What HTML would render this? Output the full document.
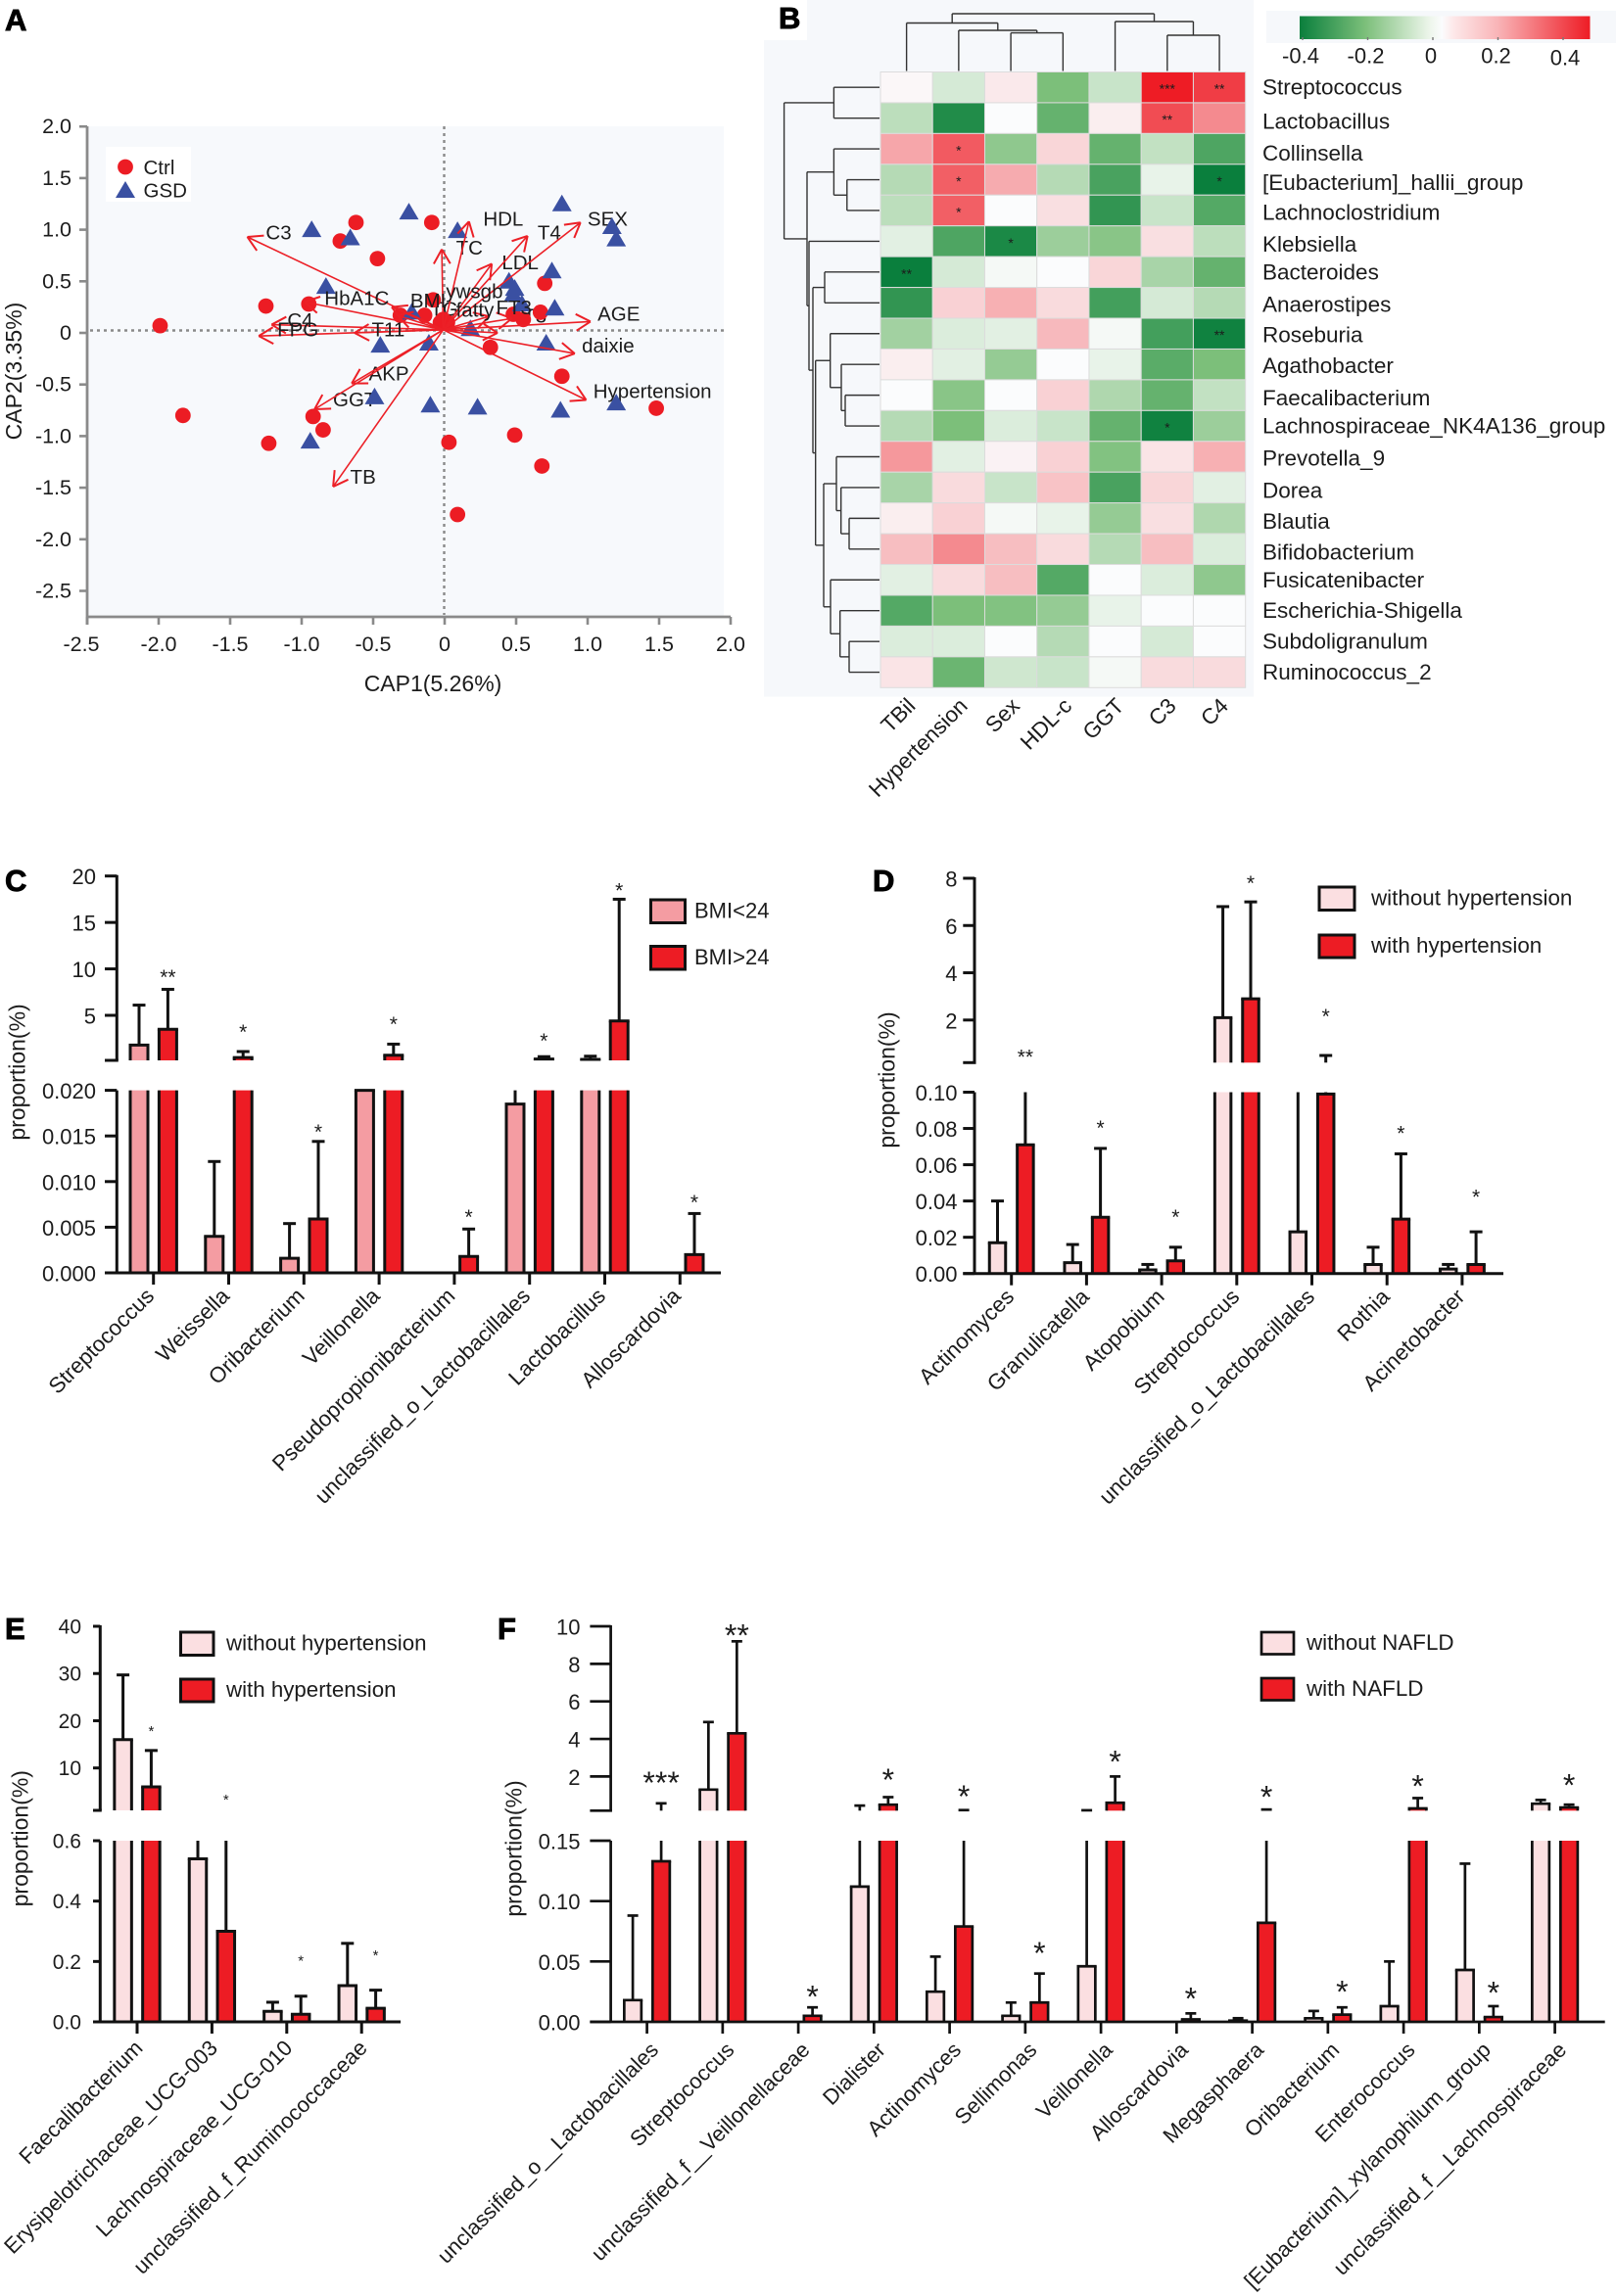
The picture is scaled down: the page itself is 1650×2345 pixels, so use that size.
<!DOCTYPE html>
<html lang="en">
<head>
<meta charset="utf-8">
<title>Gut microbiota figure panels A-F</title>
<style>
html,body{margin:0;padding:0;background:#fff}
#figure{display:block;width:1650px;height:2345px}
text{font-family:"Liberation Sans",Arial,sans-serif;fill:#1c1c1c}
</style>
</head>
<body>
<svg id="figure" xmlns="http://www.w3.org/2000/svg" width="1650" height="2345" viewBox="0 0 1650 2345"></svg>
<script>
/* ---------- Panel A data ---------- */
const ctrlX=[-1.99,-1.83,-1.25,-1.23,-0.95,-0.92,-0.85,-0.73,-0.62,-0.47,-0.09,-0.31,-0.14,-0.08,-0.01,0.02,-0.03,0.32,0.70,0.67,0.48,0.55,0.82,1.48,0.49,0.68,0.03,0.09];
const ctrlY=[0.07,-0.80,0.26,-1.07,0.28,-0.81,-0.94,0.89,1.07,0.72,1.07,0.17,0.17,0.32,0.13,0.10,0.10,-0.14,0.48,0.20,0.18,0.13,-0.42,-0.73,-0.99,-1.29,-1.06,-1.76];
const gsdX=[-0.93,-0.66,-0.25,0.09,0.82,1.17,1.20,0.75,-0.83,0.45,0.49,0.54,0.48,-0.23,0.18,0.77,0.71,-0.45,-0.11,-0.49,-0.10,0.23,0.81,1.20,-0.94];
const gsdY=[1.00,0.92,1.17,0.99,1.25,1.03,0.91,0.60,0.45,0.50,0.43,0.28,0.37,0.20,0.04,0.24,-0.10,-0.12,-0.10,-0.62,-0.70,-0.72,-0.75,-0.68,-1.05];
const arrowTipX=[-1.38,-1.21,-1.30,-0.98,-0.63,-0.37,-0.33,-0.02,0.17,0.33,0.58,0.95,1.02,0.91,0.99,-0.65,-0.91,-0.78,0.31,0.47,0.37];
const arrowTipY=[0.93,0.08,-0.03,0.30,0.00,0.25,0.17,0.81,1.08,0.67,0.94,1.07,0.11,-0.20,-0.65,-0.49,-0.74,-1.49,0.16,0.14,0.00];
const biplotLabels=["C3","HDL","TC","T4","SEX","LDL","ywsgb","BMI","HbA1C","fatty","FT3","T3","TG","C4","FPG","T11","AKP","GGT","TB","AGE","daixie","Hypertension"];
const biplotLabelX=[-1.23,0.29,0.10,0.67,1.02,0.42,0.03,-0.22,-0.82,0.10,0.38,0.57,-0.08,-1.08,-1.15,-0.49,-0.51,-0.76,-0.64,1.09,0.98,1.06];
const biplotLabelY=[0.97,1.10,0.82,0.97,1.10,0.68,0.40,0.31,0.33,0.22,0.24,0.16,0.23,0.12,0.03,0.03,-0.40,-0.65,-1.40,0.18,-0.13,-0.57];
const biplotTopLabels=["ywsgb","BMI","HbA1C","fatty","FT3","T11","FPG","C4"];
const capXTicks=[-2.5,-2,-1.5,-1,-0.5,0,0.5,1,1.5,2];
const capXTickLabels=["-2.5","-2.0","-1.5","-1.0","-0.5","0","0.5","1.0","1.5","2.0"];
const capYTicks=[2,1.5,1,0.5,0,-0.5,-1,-1.5,-2,-2.5];
const capYTickLabels=["2.0","1.5","1.0","0.5","0","-0.5","-1.0","-1.5","-2.0","-2.5"];

/* ---------- Panel B data ---------- */
const heatRows=["Streptococcus","Lactobacillus","Collinsella","[Eubacterium]_hallii_group","Lachnoclostridium","Klebsiella","Bacteroides","Anaerostipes","Roseburia","Agathobacter","Faecalibacterium","Lachnospiraceae_NK4A136_group","Prevotella_9","Dorea","Blautia","Bifidobacterium","Fusicatenibacter","Escherichia-Shigella","Subdoligranulum","Ruminococcus_2"];
const heatCols=["TBil","Hypertension","Sex","HDL-c","GGT","C3","C4"];
const heatValues=[
[0.01,-0.06,0.04,-0.20,-0.08,0.47,0.40],
[-0.10,-0.36,0.00,-0.24,0.03,0.37,0.24],
[0.18,0.34,-0.17,0.08,-0.24,-0.09,-0.28],
[-0.11,0.33,0.17,-0.11,-0.29,-0.03,-0.40],
[-0.10,0.33,0.00,0.06,-0.33,-0.08,-0.27],
[-0.04,-0.28,-0.37,-0.15,-0.18,0.06,-0.10],
[-0.40,-0.06,-0.01,0.00,0.08,-0.13,-0.24],
[-0.33,0.09,0.16,0.07,-0.30,-0.06,-0.11],
[-0.14,-0.05,-0.04,0.14,-0.01,-0.30,-0.39],
[0.03,-0.04,-0.16,0.00,-0.03,-0.26,-0.20],
[0.00,-0.18,0.00,0.09,-0.12,-0.24,-0.09],
[-0.11,-0.20,-0.05,-0.08,-0.24,-0.39,-0.15],
[0.21,-0.04,0.02,0.09,-0.19,0.05,0.16],
[-0.13,0.07,-0.08,0.12,-0.29,0.08,-0.04],
[0.03,0.09,-0.01,-0.03,-0.16,0.06,-0.12],
[0.13,0.24,0.13,0.07,-0.11,0.13,-0.05],
[-0.04,0.07,0.13,-0.27,0.00,-0.05,-0.17],
[-0.27,-0.20,-0.19,-0.16,-0.03,0.00,0.00],
[-0.05,-0.05,0.00,-0.11,0.00,-0.06,0.00],
[0.05,-0.23,-0.07,-0.08,-0.01,0.07,0.07]];
const heatStars=[
["","","","","","***","**"],["","","","","","**",""],["","*","","","","",""],["","*","","","","","*"],["","*","","","","",""],
["","","*","","","",""],["**","","","","","",""],["","","","","","",""],["","","","","","","**"],["","","","","","",""],
["","","","","","",""],["","","","","","*",""],["","","","","","",""],["","","","","","",""],["","","","","","",""],
["","","","","","",""],["","","","","","",""],["","","","","","",""],["","","","","","",""],["","","","","","",""]];
const colorbarTicks=[-0.4,-0.2,0,0.2,0.4];
const colorbarTickLabels=["-0.4","-0.2","0","0.2","0.4"];

/* ---------- Panel C data ---------- */
const cCategories=["Streptococcus","Weissella","Oribacterium","Veillonella","Pseudopropionibacterium","unclassified_o_Lactobacillales","Lactobacillus","Alloscardovia"];
const cLowBmi=[1.8,0.004,0.0016,0.02,0,0.0185,0.25,0];
const cLowBmiErr=[6.1,0.0122,0.0054,0.02,0,0.1,0.6,0];
const cHighBmi=[3.5,0.45,0.0059,0.7,0.0018,0.3,4.4,0.002];
const cHighBmiErr=[7.8,1.1,0.0144,1.9,0.0048,0.55,17.5,0.0065];
const cStars=["**","*","*","*","*","*","*","*"];
const cStarLevels=[9.65,3.73,0.016,4.6,0.00666,2.8,19,0.0083];
const cUpperTicks=[5,10,15,20];
const cUpperTickLabels=["5","10","15","20"];
const cLowerTicks=[0,0.005,0.01,0.015,0.02];
const cLowerTickLabels=["0.000","0.005","0.010","0.015","0.020"];

/* ---------- Panel D data ---------- */
const dCategories=["Actinomyces","Granulicatella","Atopobium","Streptococcus","unclassified_o_Lactobacillales","Rothia","Acinetobacter"];
const dWithout=[0.017,0.006,0.002,2.1,0.023,0.005,0.0025];
const dWithoutErr=[0.04,0.016,0.005,6.8,0.15,0.0145,0.005];
const dWith=[0.071,0.031,0.007,2.9,0.099,0.03,0.005];
const dWithErr=[0.15,0.069,0.0145,7.0,0.5,0.066,0.023];
const dStars=["**","*","*","*","*","*","*"];
const dStarLevels=[0.66,0.083,0.034,8.0,2.37,0.08,0.045];
const dUpperTicks=[2,4,6,8];
const dUpperTickLabels=["2","4","6","8"];
const dLowerTicks=[0,0.02,0.04,0.06,0.08,0.1];
const dLowerTickLabels=["0.00","0.02","0.04","0.06","0.08","0.10"];

/* ---------- Panel E data ---------- */
const eCategories=["Faecalibacterium","Erysipelotrichaceae_UCG-003","Lachnospiraceae_UCG-010","unclassified_f_Ruminococcaceae"];
const eWithout=[16,0.54,0.035,0.12];
const eWithoutErr=[29.7,1.02,0.065,0.26];
const eWith=[6,0.3,0.025,0.045];
const eWithErr=[13.7,0.8,0.085,0.105];
const eStars=["*","*","*","*"];
const eStarLevels=[18.6,4.1,0.214,0.233];
const eUpperTicks=[10,20,30,40];
const eUpperTickLabels=["10","20","30","40"];
const eLowerTicks=[0,0.2,0.4,0.6];
const eLowerTickLabels=["0.0","0.2","0.4","0.6"];

/* ---------- Panel F data ---------- */
const fCategories=["unclassified_o__Lactobacillales","Streptococcus","unclassified_f__Veillonellaceae","Dialister","Actinomyces","Sellimonas","Veillonella","Alloscardovia","Megasphaera","Oribacterium","Enterococcus","[Eubacterium]_xylanophilum_group","unclassified_f__Lachnospiraceae"];
const fWithout=[0.018,1.3,0,0.112,0.025,0.005,0.046,0,0.001,0.003,0.013,0.043,0.55];
const fWithoutErr=[0.088,4.9,0,0.45,0.054,0.016,0.2,0,0.003,0.009,0.05,0.131,0.75];
const fWith=[0.133,4.3,0.005,0.5,0.079,0.016,0.6,0.002,0.082,0.006,0.3,0.004,0.35];
const fWithErr=[0.57,9.2,0.012,0.9,0.21,0.04,2.0,0.007,0.24,0.012,0.85,0.013,0.5];
const fStars=["***","**","*","*","*","*","*","*","*","*","*","*","*"];
const fStarLevels=[2.05,9.9,0.0267,2.2,1.32,0.063,3.17,0.025,1.3,0.031,1.88,0.03,1.92];
const fUpperTicks=[2,4,6,8,10];
const fUpperTickLabels=["2","4","6","8","10"];
const fLowerTicks=[0,0.05,0.1,0.15];
const fLowerTickLabels=["0.00","0.05","0.10","0.15"];

/* ---------- helpers ---------- */
const NS='http://www.w3.org/2000/svg';
const svg=document.getElementById('figure');
function el(parent,tag,attrs,name){
  const e=document.createElementNS(NS,tag);
  for(const k in attrs){e.setAttribute(k,attrs[k]);}
  
  
  parent.appendChild(e);
  return e;
}
function line(p,x1,y1,x2,y2,stroke,w,name){
  return el(p,'line',{x1:x1,y1:y1,x2:x2,y2:y2,stroke:stroke,'stroke-width':w},name);
}
function label(p,str,x,y,size,name,extra){
  const a=Object.assign({x:x,y:y,'font-size':size,'dominant-baseline':'central'},extra||{});
  const t=el(p,'text',a,name);
  t.textContent=str;
  return t;
}
function group(name){
  return el(svg,'g',{},name);
}
function panelLetter(str,x,y){
  const t=el(svg,'text',{x:x,y:y,'font-size':31,'font-weight':'bold',stroke:'#000','stroke-width':0.9,style:'fill:#000'},'panel-letter-'+str.toLowerCase());
  t.textContent=str;
}
function hex2rgb(h){return [parseInt(h.substr(1,2),16),parseInt(h.substr(3,2),16),parseInt(h.substr(5,2),16)];}
function mix(a,b,t){
  const A=hex2rgb(a),B=hex2rgb(b);
  return 'rgb('+A.map((v,i)=>Math.round(v+(B[i]-v)*t)).join(',')+')';
}

/* ---------- Panel A ---------- */
(function(){
  const g=group('panel-a-cap-biplot');
  const xS=v=>454+146*v, yS=v=>340-105.4*v;
  el(g,'rect',{x:89,y:129,width:650,height:501,fill:'#f7f9fc'},'plot-background');
  el(g,'rect',{x:108,y:150,width:87,height:56,fill:'#ffffff'},'legend-background');
  const axisCol='#8a8a8a';
  line(g,89,129,89,638,axisCol,2.8,'y-axis-line');
  line(g,88,630,746,630,axisCol,2.8,'x-axis-line');
  capXTicks.forEach((v,i)=>{
    line(g,xS(v),630,xS(v),638,axisCol,2.6,'x-axis-tick');
    label(g,capXTickLabels[i],xS(v)-(i===0?6:0),658,21.5,'x-tick-label',{'text-anchor':'middle'});
  });
  capYTicks.forEach((v,i)=>{
    line(g,81,yS(v),89,yS(v),axisCol,2.6,'y-axis-tick');
    label(g,capYTickLabels[i],73,yS(v),21.5,'y-tick-label',{'text-anchor':'end'});
  });
  line(g,92,337.5,739,337.5,'#8a8a8a',2.4,'zero-line-horizontal').setAttribute('stroke-dasharray','3 4');
  line(g,453.5,129,453.5,628,'#8a8a8a',2.4,'zero-line-vertical').setAttribute('stroke-dasharray','3 4');
  label(g,'CAP1(5.26%)',442,698,23,'x-axis-title',{'text-anchor':'middle'});
  label(g,'CAP2(3.35%)',14,379,23,'y-axis-title',{'text-anchor':'middle',transform:'rotate(-90 14 379)'});
  biplotLabels.forEach((s,i)=>{
    if(biplotTopLabels.indexOf(s)<0){
      label(g,s,xS(biplotLabelX[i])-3,yS(biplotLabelY[i]),20.5,'biplot-label');
    }
  });
  const triPath=(cx,cy)=>{const p=[[cx,cy-9.5],[cx+10,cy+7.5],[cx-10,cy+7.5]];return p.map(q=>q.join(',')).join(' ');};
  ctrlX.forEach((v,i)=>{
    el(g,'circle',{cx:xS(v),cy:yS(ctrlY[i]),r:7.9,fill:'#ec1c24'},'ctrl-point');
  });
  gsdX.forEach((v,i)=>{
    el(g,'polygon',{points:triPath(xS(v),yS(gsdY[i])),fill:'#3a50a2'},'gsd-point');
  });
  const ox=xS(-0.01), oy=yS(0.03);
  arrowTipX.forEach((v,i)=>{
    const tx=xS(v), ty=yS(arrowTipY[i]);
    const ang=Math.atan2(oy-ty,ox-tx);
    line(g,ox,oy,tx,ty,'#ec2027',1.6,'loading-arrow-shaft');
    [-0.52,0.52].forEach(d=>{
      line(g,tx,ty,tx+17*Math.cos(ang+d),ty+17*Math.sin(ang+d),'#ec2027',2,'loading-arrow-head');
    });
  });
  biplotLabels.forEach((s,i)=>{
    if(biplotTopLabels.indexOf(s)>=0){
      label(g,s,xS(biplotLabelX[i])-3,yS(biplotLabelY[i]),20.5,'biplot-label');
    }
  });
  el(g,'circle',{cx:128,cy:170.5,r:7.9,fill:'#ec1c24'},'legend-ctrl-marker');
  el(g,'polygon',{points:triPath(128,194.5),fill:'#3a50a2'},'legend-gsd-marker');
  label(g,'Ctrl',146.5,171.5,20.5,'legend-ctrl-label');
  label(g,'GSD',146.5,195,20.5,'legend-gsd-label');
})();

/* ---------- Panel B ---------- */
(function(){
  const g=group('panel-b-heatmap');
  el(g,'rect',{x:780,y:0,width:500,height:711.6,fill:'#f6f8fb'},'heatmap-background');
  el(g,'rect',{x:780,y:0,width:44,height:41,fill:'#ffffff'},'panel-letter-background');
  el(g,'rect',{x:1293,y:11,width:357,height:33,fill:'#f6f8fb'},'colorbar-background');
  const left=899, top=73.5, cw=53.24, ch=31.44;
  const rowLabelNudge=[0,3.5,4.5,3,2,3,0,1.5,1.5,1.5,3,0,1.5,3,3,3,0,0,0,0];
  const colour=v=>{
    if(v<=-0.2) return mix('#7cbf7a','#0a7f3d',Math.min(1,(-v-0.2)/0.2));
    if(v<0) return mix('#fbfcfd','#7cbf7a',-v/0.2);
    return mix('#fbfcfd','#ee1c25',Math.min(1,v/0.47));
  };
  heatValues.forEach((row,r)=>{
    row.forEach((v,c)=>{
      el(g,'rect',{x:left+c*cw,y:top+r*ch,width:cw,height:ch,fill:colour(v),stroke:'#dcdcdc','stroke-width':1},'heatmap-cell');
      if(heatStars[r][c]){
        const t=el(g,'text',{x:left+(c+0.5)*cw,y:top+(r+0.5)*ch+6.5,'font-size':14,'text-anchor':'middle'},'significance-mark');
        t.textContent=heatStars[r][c];
      }
    });
  });
  heatRows.forEach((s,r)=>{
    label(g,s,1289,top+(r+0.5)*ch+rowLabelNudge[r],22.5,'row-label');
  });
  heatCols.forEach((s,c)=>{
    const x=left+(c+0.5)*cw-1, y=711;
    const t=el(g,'text',{x:x,y:y,'font-size':22.3,'text-anchor':'end',transform:'rotate(-45 '+x+' '+y+')'},'column-label');
    t.setAttribute('dominant-baseline','hanging');
    t.textContent=s;
  });
  /* dendrograms from merge trees: [height, left, right], leaves are indices */
  const colTree=[14,[23.5,0,[31,1,[33.6,2,3]]],[22,4,[36,5,6]]];
  const rowTree=[800.6,
    [851.4,0,1],
    [824,[851.4,2,[864.8,3,4]],
      [826,5,[830,[842,6,7],[832.7,[847.7,8,[859,9,[863,10,11]]],
        [841,[854,12,[858.7,13,[867,14,15]]],[848,16,[857.7,17,[867,18,19]]]]]]]]];
  const lc='#333';
  function drawCol(n){
    if(typeof n==='number') return {x:left+(n+0.5)*cw,y:72.5};
    const a=drawCol(n[1]), b=drawCol(n[2]), h=n[0];
    line(g,a.x,a.y,a.x,h,lc,1.4,'column-dendrogram-branch');
    line(g,b.x,b.y,b.x,h,lc,1.4,'column-dendrogram-branch');
    line(g,a.x,h,b.x,h,lc,1.4,'column-dendrogram-branch');
    return {x:(a.x+b.x)/2,y:h};
  }
  function drawRow(n){
    if(typeof n==='number') return {y:top+(n+0.5)*ch,x:898};
    const a=drawRow(n[1]), b=drawRow(n[2]), h=n[0];
    line(g,a.x,a.y,h,a.y,lc,1.4,'row-dendrogram-branch');
    line(g,b.x,b.y,h,b.y,lc,1.4,'row-dendrogram-branch');
    line(g,h,a.y,h,b.y,lc,1.4,'row-dendrogram-branch');
    return {y:(a.y+b.y)/2,x:h};
  }
  drawCol(colTree);
  drawRow(rowTree);
  /* colour bar */
  const defs=el(g,'defs',{},'colorbar-defs');
  const lg=el(defs,'linearGradient',{id:'cbar',x1:0,x2:1,y1:0,y2:0},'colorbar-gradient');
  [[0,'#0a7f3d'],[0.226,'#7cbf7a'],[0.45,'#eef6ec'],[0.49,'#fbfcfd'],[0.53,'#fde8e9'],[0.68,'#f9b5b8'],[1,'#ee1c25']].forEach(s=>{
    el(lg,'stop',{offset:s[0],'stop-color':s[1]},'colorbar-stop');
  });
  el(g,'rect',{x:1327,y:16.5,width:296.5,height:23.5,fill:'url(#cbar)'},'colorbar');
  const cS=v=>1463+v*332.5;
  colorbarTicks.forEach((v,i)=>{
    line(g,cS(v),38,cS(v),41,'#777',1.4,'colorbar-tick');
    label(g,colorbarTickLabels[i],cS(v)-(i===4?-2:2),i===4?59:57,22,'colorbar-tick-label',{'text-anchor':'middle'});
  });
})();

/* ---------- broken-axis bar panels ---------- */
function drawBroken(name,L,d){
  const g=group(name);
  const upScale=(L.upY1-L.upY0)/(L.upV1-L.upV0);
  const up=v=>L.upY0+(v-L.upV0)*upScale;
  const upBase=L.upV0+(L.baseY-L.upY0)/upScale;
  const lowTop=L.lowV1;
  const low=v=>L.lowY0+(L.lowY1-L.lowY0)*v/lowTop;
  const starY=v=>{
    if(v<=lowTop) return low(v);
    if(v>=upBase) return up(v);
    return (L.baseY+L.lowY1)/2;
  };
  const K='#111', sw=L.sw;
  function bar(x,v,err,fill,nm){
    const hw=L.barW/2;
    if(v>0){
      const yt=low(Math.min(v,lowTop));
      el(g,'rect',{x:x-hw,y:yt,width:L.barW,height:L.lowY0-yt,fill:fill},nm);
      line(g,x-hw,yt,x-hw,L.lowY0,K,sw,nm+'-edge');
      line(g,x+hw,yt,x+hw,L.lowY0,K,sw,nm+'-edge');
      if(v<=lowTop) line(g,x-hw-sw/2,yt,x+hw+sw/2,yt,K,sw,nm+'-edge');
      if(v>upBase){
        const yu=up(v);
        el(g,'rect',{x:x-hw,y:yu,width:L.barW,height:L.baseY-yu,fill:fill},nm);
        line(g,x-hw,yu,x-hw,L.baseY,K,sw,nm+'-edge');
        line(g,x+hw,yu,x+hw,L.baseY,K,sw,nm+'-edge');
        line(g,x-hw-sw/2,yu,x+hw+sw/2,yu,K,sw,nm+'-edge');
      }
    }
    if(err>v){
      if(v<lowTop){
        const ye=low(Math.min(err,lowTop));
        line(g,x,low(v),x,ye,K,sw,'error-bar');
        if(err<=lowTop) line(g,x-L.cap,ye,x+L.cap,ye,K,sw,'error-bar-cap');
      }
      if(err>upBase){
        const ye=up(err);
        line(g,x,up(Math.max(v,upBase)),x,ye,K,sw,'error-bar');
        line(g,x-L.cap,ye,x+L.cap,ye,K,sw,'error-bar-cap');
      }
    }
  }
  /* axes */
  line(g,L.axisX,L.upY1-1,L.axisX,L.baseY,K,sw,'y-axis-upper');
  line(g,L.axisX,L.lowY1,L.axisX,L.lowY0,K,sw,'y-axis-lower');
  line(g,L.tickLeft,L.baseY,L.axisX+sw/2,L.baseY,K,sw,'y-axis-break-tick');
  d.upTicks.forEach((v,i)=>{
    line(g,L.tickLeft,up(v),L.axisX,up(v),K,sw,'y-axis-tick');
    label(g,d.upLabels[i],L.labelRight,up(v)+1,L.tickFont,'y-tick-label',{'text-anchor':'end'});
  });
  d.lowTicks.forEach((v,i)=>{
    line(g,L.tickLeft,low(v),L.axisX,low(v),K,sw,'y-axis-tick');
    label(g,d.lowLabels[i],L.labelRight,low(v)+1,L.tickFont,'y-tick-label',{'text-anchor':'end'});
  });
  label(g,'proportion(%)',L.titleX,L.titleY,L.titleFont,'y-axis-title',{'text-anchor':'middle',transform:'rotate(-90 '+L.titleX+' '+L.titleY+')'});
  d.cats.forEach((s,i)=>{
    const tx=L.x0+i*L.step;
    bar(tx-L.off,d.a[i],d.aErr[i],L.fillA,'bar-series-1');
    bar(tx+L.off,d.b[i],d.bErr[i],L.fillB,'bar-series-2');
    line(g,tx,L.lowY0,tx,L.lowY0+12,K,sw,'x-axis-tick');
    const ax=tx+L.labelDx, ay=L.lowY0+L.labelDy;
    const t=el(g,'text',{x:ax,y:ay,'font-size':L.catFont,'text-anchor':'end',transform:'rotate(-45 '+ax+' '+ay+')'},'category-label');
    t.textContent=s;
    const sy=starY(d.starLevels[i]);
    const st=el(g,'text',{x:tx+L.off,y:sy+L.starFont*0.58,'font-size':L.starFont,'text-anchor':'middle'},'significance-mark');
    st.textContent=d.stars[i];
  });
  line(g,L.tickLeft,L.lowY0,L.xRight,L.lowY0,K,sw,'x-axis-line');
  /* legend */
  L.legend.forEach((e,i)=>{
    el(g,'rect',{x:e.x,y:e.y,width:e.w,height:e.h,fill:i===0?L.fillA:L.fillB,stroke:K,'stroke-width':sw},'legend-swatch');
    label(g,e.text,e.tx,e.y+e.h/2-1,L.legendFont,'legend-label');
  });
}

drawBroken('panel-c-bmi-bars',{
  axisX:119.3,tickLeft:107,upV0:5,upY0:1037,upV1:20,upY1:894.7,baseY:1083,lowV1:0.02,lowY0:1300,lowY1:1113.6,
  xRight:736,x0:156.7,step:76.8,off:14.7,barW:18,sw:3,cap:6.5,fillA:'#f49ca2',fillB:'#ed1c24',labelRight:98,tickFont:22,
  titleX:17.6,titleY:1095,titleFont:23,catFont:22.3,labelDx:2,labelDy:25,starFont:21,legendFont:22,
  legend:[{x:664.5,y:919,w:35,h:23.5,text:'BMI<24',tx:709},{x:664.5,y:966.5,w:35,h:23.5,text:'BMI>24',tx:709}]
},{cats:cCategories,a:cLowBmi,aErr:cLowBmiErr,b:cHighBmi,bErr:cHighBmiErr,stars:cStars,starLevels:cStarLevels,upTicks:cUpperTicks,upLabels:cUpperTickLabels,lowTicks:cLowerTicks,lowLabels:cLowerTickLabels});

drawBroken('panel-d-hypertension-bars',{
  axisX:995,tickLeft:983.3,upV0:2,upY0:1041.8,upV1:8,upY1:897,baseY:1085.3,lowV1:0.1,lowY0:1300.7,lowY1:1115.5,
  xRight:1535,x0:1032.7,step:76.7,off:14.2,barW:16.5,sw:3,cap:6.5,fillA:'#fbdfe1',fillB:'#ed1c24',labelRight:977.5,tickFont:22,
  titleX:905.6,titleY:1103,titleFont:23,catFont:22.3,labelDx:4,labelDy:25,starFont:21,legendFont:22.4,
  legend:[{x:1347,y:906,w:36,h:23.5,text:'without hypertension',tx:1400},{x:1347,y:955,w:36,h:23,text:'with hypertension',tx:1400}]
},{cats:dCategories,a:dWithout,aErr:dWithoutErr,b:dWith,bErr:dWithErr,stars:dStars,starLevels:dStarLevels,upTicks:dUpperTicks,upLabels:dUpperTickLabels,lowTicks:dLowerTicks,lowLabels:dLowerTickLabels});

drawBroken('panel-e-hypertension-bars',{
  axisX:102.3,tickLeft:95,upV0:10,upY0:1805.7,upV1:40,upY1:1661,baseY:1849,lowV1:0.6,lowY0:2065,lowY1:1880,
  xRight:409,x0:140,step:76.4,off:14.4,barW:17.5,sw:3,cap:6.5,fillA:'#fbdfe1',fillB:'#ed1c24',labelRight:83,tickFont:21,
  titleX:20.7,titleY:1877.7,titleFont:23,catFont:22,labelDx:7,labelDy:28,starFont:15,legendFont:22.3,
  legend:[{x:184.5,y:1667,w:33.5,h:23.5,text:'without hypertension',tx:231},{x:184.5,y:1715,w:33.5,h:23,text:'with hypertension',tx:231}]
},{cats:eCategories,a:eWithout,aErr:eWithoutErr,b:eWith,bErr:eWithErr,stars:eStars,starLevels:eStarLevels,upTicks:eUpperTicks,upLabels:eUpperTickLabels,lowTicks:eLowerTicks,lowLabels:eLowerTickLabels});

drawBroken('panel-f-nafld-bars',{
  axisX:623.6,tickLeft:602.4,upV0:2,upY0:1814.4,upV1:10,upY1:1661,baseY:1849.3,lowV1:0.15,lowY0:2065,lowY1:1880,
  xRight:1638.7,x0:660.6,step:77.25,off:14.5,barW:17.5,sw:2.7,cap:5.5,fillA:'#fbdfe1',fillB:'#ed1c24',labelRight:592.5,tickFont:22,
  titleX:524.5,titleY:1888,titleFont:23,catFont:22,labelDx:13,labelDy:30,starFont:32,legendFont:22.4,
  legend:[{x:1288,y:1667,w:33,h:22.5,text:'without NAFLD',tx:1334},{x:1288,y:1714,w:33,h:22.5,text:'with NAFLD',tx:1334}]
},{cats:fCategories,a:fWithout,aErr:fWithoutErr,b:fWith,bErr:fWithErr,stars:fStars,starLevels:fStarLevels,upTicks:fUpperTicks,upLabels:fUpperTickLabels,lowTicks:fLowerTicks,lowLabels:fLowerTickLabels});

panelLetter('A',5,31);
panelLetter('B',795,29);
panelLetter('C',5,910);
panelLetter('D',891,910);
panelLetter('E',5,1674);
panelLetter('F',508,1674);
</script>
</body>
</html>
